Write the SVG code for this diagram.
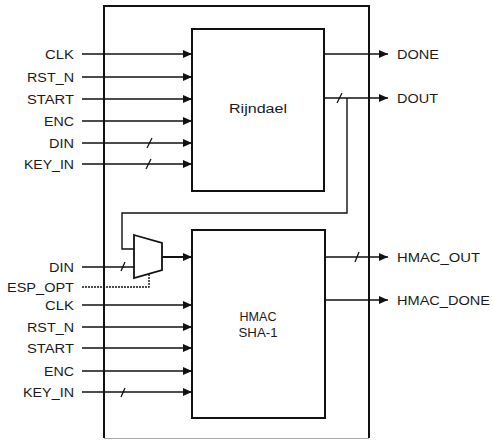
<svg xmlns="http://www.w3.org/2000/svg" width="493" height="440" viewBox="0 0 493 440">
<defs>
<style>
.blk{fill:#fff;stroke:#111;stroke-width:2}
.ln{fill:none;stroke:#111;stroke-width:1.6}
.thin{fill:none;stroke:#111;stroke-width:1.4}
.sl{fill:none;stroke:#111;stroke-width:1.3}
.lbl{font-family:"Liberation Sans",Arial,sans-serif;font-size:12.5px;fill:#1a1a1a}
.r{text-anchor:end}
.c{text-anchor:middle}
</style>
<marker id="ah" markerWidth="9" markerHeight="8" refX="9" refY="4" orient="auto" markerUnits="userSpaceOnUse">
<path d="M0,0 L9,4 L0,8 Z" fill="#111"/>
</marker>
</defs>
<rect width="493" height="440" fill="#fff"/>
<g id="outer">
<path d="M104,438 L104,6 L369,6 L369,438" fill="none" stroke="#111" stroke-width="2"/>
<line x1="104" y1="438.5" x2="369" y2="438.5" stroke="#aaa" stroke-width="1"/>
</g>
<g id="rijndael">
<rect x="192" y="29" width="132" height="162" class="blk"/>
<text x="258" y="113" class="lbl c" textLength="58" lengthAdjust="spacingAndGlyphs">Rijndael</text>
</g>
<g id="hmac">
<rect x="192" y="230" width="133" height="188" class="blk"/>
<text x="258" y="321" class="lbl c" style="font-size:13px" textLength="37" lengthAdjust="spacingAndGlyphs">HMAC</text>
<text x="258" y="337" class="lbl c" style="font-size:13px" textLength="39" lengthAdjust="spacingAndGlyphs">SHA-1</text>
</g>
<g id="mux">
<path d="M134,235 L162,243 L162,270 L134,278 Z" class="blk" style="stroke-width:1.8"/>
</g>
<g id="connectors">
<line x1="82" y1="54" x2="192" y2="54" class="ln" marker-end="url(#ah)"/>
<line x1="82" y1="77" x2="192" y2="77" class="ln" marker-end="url(#ah)"/>
<line x1="82" y1="99" x2="192" y2="99" class="ln" marker-end="url(#ah)"/>
<line x1="82" y1="121" x2="192" y2="121" class="ln" marker-end="url(#ah)"/>
<line x1="82" y1="143" x2="192" y2="143" class="ln" marker-end="url(#ah)"/>
<line x1="82" y1="164" x2="192" y2="164" class="ln" marker-end="url(#ah)"/>
<line x1="147" y1="148" x2="152" y2="138" class="sl"/>
<line x1="146" y1="169" x2="151" y2="159" class="sl"/>
<line x1="324" y1="54" x2="388" y2="54" class="thin" marker-end="url(#ah)"/>
<line x1="324" y1="98" x2="388" y2="98" class="ln" marker-end="url(#ah)"/>
<line x1="337" y1="103" x2="342" y2="93" class="sl"/>
<path d="M347,98 L347,213 L122,213 L122,249 L134,249" class="thin"/>
<line x1="162" y1="257" x2="192" y2="257" class="ln" style="stroke-width:2" marker-end="url(#ah)"/>
<line x1="82" y1="267" x2="134" y2="267" class="thin"/>
<line x1="121" y1="271" x2="125" y2="262" class="sl"/>
<path d="M82,287 L149,287 L149,274" class="thin" stroke-dasharray="2 1"/>
<line x1="82" y1="305" x2="192" y2="305" class="ln" marker-end="url(#ah)"/>
<line x1="82" y1="327" x2="192" y2="327" class="ln" marker-end="url(#ah)"/>
<line x1="82" y1="348" x2="192" y2="348" class="ln" marker-end="url(#ah)"/>
<line x1="82" y1="371" x2="192" y2="371" class="ln" marker-end="url(#ah)"/>
<line x1="82" y1="392" x2="192" y2="392" class="ln" marker-end="url(#ah)"/>
<line x1="121" y1="397" x2="125" y2="388" class="sl"/>
<line x1="325" y1="257" x2="388" y2="257" class="ln" marker-end="url(#ah)"/>
<line x1="355" y1="262" x2="359" y2="252" class="sl"/>
<line x1="325" y1="300" x2="388" y2="300" class="ln" marker-end="url(#ah)"/>
</g>
<g id="labels">
<text x="74" y="58.5" class="lbl r" textLength="29" lengthAdjust="spacingAndGlyphs">CLK</text>
<text x="74" y="81.5" class="lbl r" textLength="47" lengthAdjust="spacingAndGlyphs">RST_N</text>
<text x="74" y="103.5" class="lbl r" textLength="47" lengthAdjust="spacingAndGlyphs">START</text>
<text x="74" y="125.5" class="lbl r" textLength="30" lengthAdjust="spacingAndGlyphs">ENC</text>
<text x="74" y="147.5" class="lbl r" textLength="25" lengthAdjust="spacingAndGlyphs">DIN</text>
<text x="74" y="168.5" class="lbl r" textLength="50" lengthAdjust="spacingAndGlyphs">KEY_IN</text>
<text x="397" y="58.5" class="lbl" textLength="42" lengthAdjust="spacingAndGlyphs">DONE</text>
<text x="397" y="102.5" class="lbl" textLength="41" lengthAdjust="spacingAndGlyphs">DOUT</text>
<text x="74" y="271.5" class="lbl r" textLength="25" lengthAdjust="spacingAndGlyphs">DIN</text>
<text x="74" y="291.5" class="lbl r" textLength="67" lengthAdjust="spacingAndGlyphs">ESP_OPT</text>
<text x="74" y="309.5" class="lbl r" textLength="29" lengthAdjust="spacingAndGlyphs">CLK</text>
<text x="74" y="331.5" class="lbl r" textLength="47" lengthAdjust="spacingAndGlyphs">RST_N</text>
<text x="74" y="352.5" class="lbl r" textLength="47" lengthAdjust="spacingAndGlyphs">START</text>
<text x="74" y="375.5" class="lbl r" textLength="30" lengthAdjust="spacingAndGlyphs">ENC</text>
<text x="74" y="396.5" class="lbl r" textLength="51" lengthAdjust="spacingAndGlyphs">KEY_IN</text>
<text x="397" y="261.5" class="lbl" textLength="83" lengthAdjust="spacingAndGlyphs">HMAC_OUT</text>
<text x="397" y="304.5" class="lbl" textLength="93" lengthAdjust="spacingAndGlyphs">HMAC_DONE</text>
</g>
</svg>
